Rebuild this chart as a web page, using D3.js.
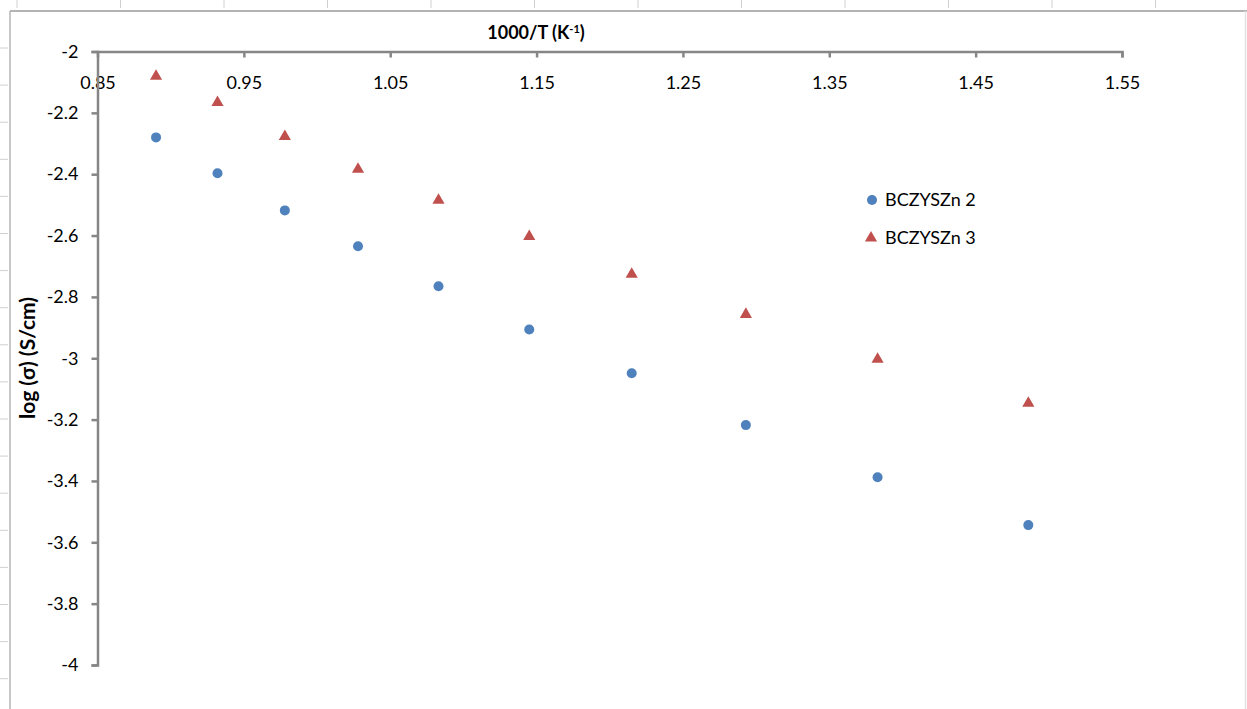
<!DOCTYPE html>
<html>
<head>
<meta charset="utf-8">
<script src="https://cdn.jsdelivr.net/npm/d3@7"></script>
<style>
  html, body { margin: 0; padding: 0; background: #ffffff; }
  svg { display: block; }
  text { font-family: Lato, "Open Sans", sans-serif; fill: #000; }
</style>
</head>
<body>
<svg id="chart" width="1247" height="709"></svg>
<script>
// Inverse temperature, 1000/T (K^-1), for 850 °C down to 400 °C
const invTemp = [0.890, 0.932, 0.978, 1.028, 1.083, 1.145, 1.215, 1.293, 1.383, 1.486];
// log conductivity, log(σ) in S/cm
const sigmaZn2 = [-2.280, -2.397, -2.518, -2.635, -2.765, -2.906, -3.049, -3.218, -3.388, -3.544];
const sigmaZn3 = [-2.081, -2.166, -2.277, -2.384, -2.485, -2.603, -2.726, -2.857, -3.003, -3.147];
const seriesNames = ["BCZYSZn 2", "BCZYSZn 3"];
const xTicks = [0.85, 0.95, 1.05, 1.15, 1.25, 1.35, 1.45, 1.55];
const yTicks = [-2, -2.2, -2.4, -2.6, -2.8, -3, -3.2, -3.4, -3.6, -3.8, -4];

const W = 1247, H = 709;
const svg = d3.select("#chart");

// Sheet frame with ruler marks along the top and left edges
const frame = svg.append("g");
frame.append("line").attr("x1", 10).attr("x2", W).attr("y1", 11).attr("y2", 11)
  .attr("stroke", "#b4b4b4").attr("stroke-width", 2);
frame.append("line").attr("x1", 10).attr("x2", 10).attr("y1", 11).attr("y2", H)
  .attr("stroke", "#b4b4b4").attr("stroke-width", 1.5);
frame.append("line").attr("x1", 1245.5).attr("x2", 1245.5).attr("y1", 11).attr("y2", H)
  .attr("stroke", "#e2e2e2").attr("stroke-width", 1.5);
frame.selectAll(".rt").data(d3.range(17, W, 103.5)).join("line")
  .attr("x1", d => d).attr("x2", d => d).attr("y1", 0).attr("y2", 8)
  .attr("stroke", "#d0d0d0").attr("stroke-width", 1);
frame.selectAll(".rl").data(d3.range(48, H, 37.1)).join("line")
  .attr("x1", 0).attr("x2", 8).attr("y1", d => d).attr("y2", d => d)
  .attr("stroke", "#d0d0d0").attr("stroke-width", 1);

// Scales
const x = d3.scaleLinear().domain([0.85, 1.55]).range([97.5, 1122]);
const y = d3.scaleLinear().domain([-2, -4]).range([51.5, 665]);

const fmtY = d => String(+d.toFixed(1));

// X axis along the top edge (at y = -2), labels below the line
const gx = svg.append("g").attr("transform", `translate(0,${y(-2)})`)
  .call(d3.axisBottom(x).tickValues(xTicks).tickFormat(d3.format(".2f"))
    .tickSize(6).tickSizeOuter(6).tickPadding(19));
// Y axis
const gy = svg.append("g").attr("transform", `translate(${x(0.85)},0)`)
  .call(d3.axisLeft(y).tickValues(yTicks).tickFormat(fmtY)
    .tickSize(6).tickSizeOuter(6).tickPadding(13));

[gx, gy].forEach(g => {
  g.select(".domain").attr("stroke", "#868686").attr("stroke-width", 2.5);
  g.selectAll(".tick line").attr("stroke", "#868686").attr("stroke-width", 2.5);
  g.selectAll(".tick text").style("font-family", "Lato, sans-serif")
    .style("font-size", "18px").attr("fill", "#000");
});
// the 0.85 tick coincides with the y axis
gx.selectAll(".tick line").filter(d => d === 0.85).remove();

// Axis titles
const xt = svg.append("text").attr("x", 536).attr("y", 39)
  .attr("text-anchor", "middle").style("font-size", "18px").style("font-weight", "bold");
xt.append("tspan").text("1000/T (K");
xt.append("tspan").attr("dy", -6).style("font-size", "11px").text("-1");
xt.append("tspan").attr("dy", 6).text(")");

svg.append("text").attr("transform", "translate(35,358) rotate(-90)")
  .attr("text-anchor", "middle").style("font-size", "21px").style("font-weight", "bold")
  .text("log (σ) (S/cm)");

// Data markers
const pts2 = invTemp.map((v, i) => [v, sigmaZn2[i]]);
const pts3 = invTemp.map((v, i) => [v, sigmaZn3[i]]);
const tri = d3.symbol().type(d3.symbolTriangle).size(64);

svg.append("g").selectAll("circle").data(pts2).join("circle")
  .attr("cx", d => x(d[0])).attr("cy", d => y(d[1])).attr("r", 5)
  .attr("fill", "#4f81bd");
svg.append("g").selectAll("path").data(pts3).join("path")
  .attr("d", tri).attr("transform", d => `translate(${x(d[0])},${y(d[1])})`)
  .attr("fill", "#c0504d");

// Legend
const lg = svg.append("g");
lg.append("circle").attr("cx", 872).attr("cy", 200).attr("r", 5).attr("fill", "#4f81bd");
lg.append("path").attr("d", tri).attr("transform", "translate(871,238)").attr("fill", "#c0504d");
lg.selectAll("text").data(seriesNames).join("text")
  .attr("x", 885).attr("y", (d, i) => 200 + i * 38).attr("dy", "0.35em")
  .style("font-size", "18px").text(d => d);
</script>
</body>
</html>
